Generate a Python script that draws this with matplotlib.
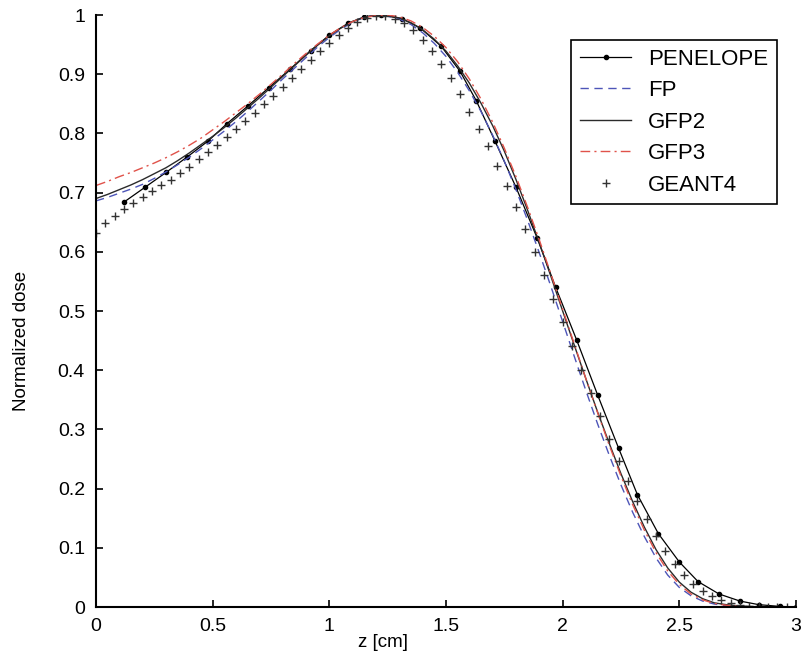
import numpy as np
import matplotlib
matplotlib.use("Agg")
import matplotlib.pyplot as plt

plt.rcParams.update({
    "font.family": "sans-serif",
    "font.sans-serif": ["Liberation Sans", "DejaVu Sans"],
    "font.size": 14,
    "axes.labelsize": 13.5,
    "xtick.labelsize": 14,
    "ytick.labelsize": 14,
    "legend.fontsize": 16,
})

#%% Data
# deterministic curves, sampled every 0.05 cm
z_line = np.round(np.arange(0, 3.0001, 0.05), 2)

fp = [0.686, 0.692, 0.699, 0.706, 0.714, 0.724, 0.735, 0.747, 0.760, 0.774,
      0.789, 0.804, 0.820, 0.837, 0.855, 0.873, 0.892, 0.910, 0.928, 0.946,
      0.962, 0.976, 0.988, 0.996, 1.000, 0.998, 0.993, 0.984, 0.970, 0.952,
      0.930, 0.903, 0.872, 0.837, 0.797, 0.753, 0.705, 0.653, 0.598, 0.541,
      0.482, 0.423, 0.365, 0.309, 0.256, 0.206, 0.160, 0.119, 0.083, 0.054,
      0.033, 0.019, 0.010, 0.005, 0.002, 0.001, 0.000, 0.000, 0.000, 0.000,
      0.000]

gfp2 = [0.690, 0.697, 0.705, 0.713, 0.722, 0.732, 0.742, 0.754, 0.767, 0.781,
        0.795, 0.810, 0.826, 0.843, 0.860, 0.878, 0.896, 0.914, 0.932, 0.949,
        0.965, 0.978, 0.989, 0.996, 1.000, 0.999, 0.995, 0.987, 0.975, 0.959,
        0.939, 0.914, 0.885, 0.851, 0.813, 0.770, 0.722, 0.670, 0.615, 0.558,
        0.500, 0.442, 0.385, 0.329, 0.276, 0.225, 0.178, 0.135, 0.097, 0.066,
        0.042, 0.025, 0.014, 0.007, 0.004, 0.002, 0.001, 0.000, 0.000, 0.000,
        0.000]

gfp3 = [0.712, 0.719, 0.727, 0.734, 0.742, 0.750, 0.759, 0.769, 0.780, 0.792,
        0.806, 0.820, 0.835, 0.850, 0.866, 0.883, 0.900, 0.918, 0.935, 0.951,
        0.966, 0.979, 0.989, 0.996, 0.999, 1.000, 0.997, 0.990, 0.979, 0.964,
        0.945, 0.921, 0.892, 0.858, 0.819, 0.775, 0.727, 0.675, 0.620, 0.562,
        0.503, 0.444, 0.385, 0.328, 0.273, 0.221, 0.173, 0.130, 0.092, 0.061,
        0.038, 0.022, 0.012, 0.006, 0.003, 0.001, 0.000, 0.000, 0.000, 0.000,
        0.000]

# PENELOPE (dots)
z_pen = [0.12, 0.21, 0.30, 0.39, 0.48, 0.56, 0.65, 0.74, 0.83, 0.92,
         1.00, 1.08, 1.15, 1.22, 1.31, 1.39, 1.48, 1.56, 1.63, 1.71,
         1.80, 1.89, 1.97, 2.06, 2.15, 2.24, 2.32, 2.41, 2.50, 2.58,
         2.67, 2.76, 2.84, 2.93, 3.00]
pen = [0.684, 0.709, 0.734, 0.760, 0.787, 0.816, 0.846, 0.877, 0.908, 0.940,
       0.966, 0.986, 0.997, 1.000, 0.994, 0.978, 0.947, 0.905, 0.855, 0.787,
       0.709, 0.624, 0.540, 0.451, 0.358, 0.268, 0.190, 0.124, 0.076, 0.043,
       0.022, 0.010, 0.004, 0.001, 0.000]

# GEANT4 (crosses), every 0.04 cm
z_g4 = np.round(np.arange(0, 3.0001, 0.04), 2)
g4 = [0.632, 0.648, 0.660, 0.672, 0.682, 0.692, 0.702, 0.712, 0.722, 0.733,
      0.744, 0.756, 0.768, 0.781, 0.794, 0.807, 0.821, 0.835, 0.849, 0.864,
      0.879, 0.894, 0.909, 0.924, 0.939, 0.953, 0.966, 0.978, 0.988, 0.995,
      0.999, 0.999, 0.994, 0.986, 0.974, 0.958, 0.940, 0.918, 0.893, 0.866,
      0.836, 0.808, 0.778, 0.745, 0.711, 0.675, 0.638, 0.600, 0.561, 0.521,
      0.481, 0.441, 0.401, 0.361, 0.322, 0.284, 0.247, 0.212, 0.179, 0.148,
      0.120, 0.095, 0.073, 0.054, 0.039, 0.027, 0.018, 0.011, 0.007, 0.004,
      0.002, 0.001, 0.000, 0.000, 0.000, 0.000]

#%% Plot
fig = plt.figure(figsize=(8.03, 6.57), dpi=100)
ax = fig.add_axes([96/803, 50/657, 700/803, 592/657])

ax.plot(z_pen, pen, color="black", lw=0.9, marker="o", ms=3, label="PENELOPE")
ax.plot(z_line, fp, color="#4d55b8", lw=1.0, ls=(0, (6, 4)), label="FP")
ax.plot(z_line, gfp2, color="#2b2b2b", lw=1.0, label="GFP2")
ax.plot(z_line, gfp3, color="#e0524a", lw=1.0, ls=(0, (7, 3, 1.5, 3)), label="GFP3")
ax.plot(z_g4, g4, ls="none", marker="+", ms=6, mew=1.0, color="#333333", label="GEANT4")

ax.set_xlim(0, 3)
ax.set_ylim(0, 1)
ax.set_xticks([0, 0.5, 1, 1.5, 2, 2.5, 3])
ax.set_xticklabels(["0", "0.5", "1", "1.5", "2", "2.5", "3"])
ax.set_yticks(np.arange(0, 1.01, 0.1))
ax.set_yticklabels(["0", "0.1", "0.2", "0.3", "0.4", "0.5", "0.6", "0.7", "0.8", "0.9", "1"])
ax.tick_params(direction="in", length=5, width=1.2, pad=8)
for side in ["top", "right"]:
    ax.spines[side].set_visible(False)
for side in ["left", "bottom"]:
    ax.spines[side].set_linewidth(1.5)

ax.set_xlabel("z [cm]")
ax.xaxis.set_label_coords(0.41, -0.045)
ax.set_ylabel("Normalized dose")
ax.yaxis.set_label_coords(-0.094, 0.45)

leg = ax.legend(loc="upper right", bbox_to_anchor=(0.973, 0.958), borderaxespad=0,
                fancybox=False, edgecolor="black", framealpha=1,
                handlelength=2.3, handletextpad=0.75, labelspacing=0.47,
                borderpad=0.4)
leg.get_frame().set_linewidth(1.2)

fig.savefig("out.png", dpi=100)
